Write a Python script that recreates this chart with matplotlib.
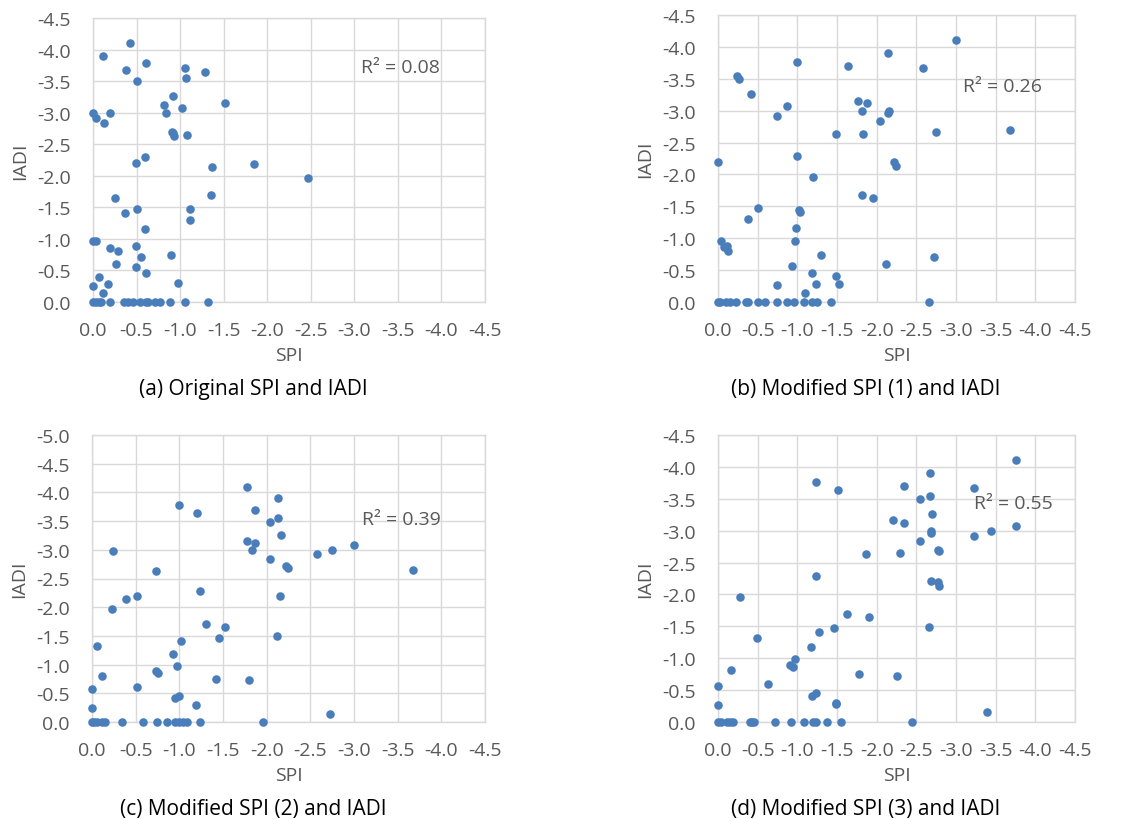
import numpy as np
import matplotlib.pyplot as plt

plt.rcParams['font.family'] = ['Open Sans', 'DejaVu Sans']

# (a) Original SPI and IADI
spi_a = [-0.43, -0.12, -0.61, -0.38, -1.06, -1.29, -0.50, -1.07, -0.92, -1.51,
         -0.81, -1.02, 0.0, -0.03, -0.20, -0.13, -0.84, -0.91, -0.92, -0.93,
         -1.08, -0.60, -0.49, -1.37, -1.85, -2.47, -0.25, -1.36, -0.37, -0.51,
         -1.11, -1.11, -0.60, 0.0, -0.04, -0.20, -0.29, -0.49, -0.55, -0.90,
         -0.26, -0.49, -0.61, -0.07, 0.0, -0.17, -0.98, -0.11,
         0.0, -0.03, -0.07, -0.09, -0.19, -0.36, -0.40, -0.46, -0.54, -0.61,
         -0.63, -0.71, -0.77, -0.88, -1.06, -1.32]
iadi_a = [-4.11, -3.90, -3.78, -3.67, -3.71, -3.64, -3.50, -3.55, -3.26, -3.16,
          -3.12, -3.07, -2.99, -2.91, -3.00, -2.84, -3.00, -2.70, -2.67, -2.63,
          -2.65, -2.29, -2.20, -2.14, -2.19, -1.96, -1.64, -1.69, -1.41, -1.47,
          -1.48, -1.30, -1.16, -0.97, -0.97, -0.86, -0.81, -0.88, -0.72, -0.74,
          -0.60, -0.56, -0.46, -0.40, -0.26, -0.28, -0.30, -0.14,
          0, 0, 0, 0, 0, 0, 0, 0, 0, 0, 0, 0, 0, 0, 0, 0]

# (b) Modified SPI (1) and IADI
spi_b = [-3.00, -2.14, -1.00, -1.64, -2.58, -0.24, -0.26, -0.41, -1.77, -1.88,
         -0.87, -1.81, -2.14, -2.16, -0.74, -2.04, -1.49, -1.83, -2.75, -3.68,
         0.0, -1.00, -2.22, -2.24, -1.20, -1.81, -1.96, -0.51, -1.02, -1.03,
         -0.38, -0.98, -0.04, -0.97, -0.07, -0.11, -0.12, -1.30, -2.72, -0.93,
         -2.12, -1.19, -1.49, -1.52, -0.74, -1.24, -1.10,
         0.0, -0.03, -0.10, -0.15, -0.23, -0.35, -0.38, -0.51, -0.59, -0.74,
         -0.87, -0.96, -1.08, -1.19, -1.25, -1.43, -2.66]
iadi_b = [-4.11, -3.90, -3.77, -3.70, -3.67, -3.55, -3.49, -3.26, -3.15, -3.12,
          -3.07, -2.99, -2.97, -2.99, -2.91, -2.84, -2.63, -2.64, -2.67, -2.70,
          -2.20, -2.29, -2.19, -2.13, -1.96, -1.68, -1.63, -1.48, -1.45, -1.41,
          -1.30, -1.16, -0.96, -0.96, -0.86, -0.88, -0.80, -0.74, -0.71, -0.56,
          -0.59, -0.45, -0.40, -0.29, -0.26, -0.28, -0.14,
          0, 0, 0, 0, 0, 0, 0, 0, 0, 0, 0, 0, 0, 0, 0, 0, 0]

# (c) Modified SPI (2) and IADI
spi_c = [-1.77, -2.13, -1.00, -1.87, -1.20, -2.13, -2.04, -2.16, -1.77, -1.87,
         -3.00, -1.83, -2.75, -0.24, -2.58, -2.04, -2.22, -2.24, -0.73, -3.67,
         -1.24, -0.51, -2.15, -0.39, -0.23, -1.30, -1.52, -1.45, -2.12, -1.02,
         -0.06, -0.93, -0.97, -0.73, -0.75, -0.12, -1.42, -1.80, 0.0, -0.51,
         -1.00, -0.95, -1.19, 0.0, -2.72,
         0.0, -0.02, -0.06, -0.11, -0.15, -0.34, -0.58, -0.74, -0.86, -0.95,
         -1.00, -1.04, -1.09, -1.24, -1.96]
iadi_c = [-4.10, -3.90, -3.78, -3.70, -3.64, -3.55, -3.49, -3.26, -3.16, -3.12,
          -3.08, -3.00, -3.00, -2.98, -2.92, -2.84, -2.71, -2.68, -2.63, -2.65,
          -2.29, -2.20, -2.20, -2.14, -1.96, -1.71, -1.65, -1.47, -1.49, -1.41,
          -1.32, -1.18, -0.98, -0.89, -0.86, -0.81, -0.75, -0.73, -0.57, -0.61,
          -0.46, -0.42, -0.30, -0.25, -0.14,
          0, 0, 0, 0, 0, 0, 0, 0, 0, 0, 0, 0, 0, 0, 0]

# (d) Modified SPI (3) and IADI
spi_d = [-3.76, -2.67, -1.24, -2.35, -3.23, -1.51, -2.67, -2.55, -2.70, -2.20,
         -2.35, -3.76, -3.44, -2.69, -2.68, -3.23, -2.55, -2.77, -2.79, -1.86,
         -2.29, -1.24, -2.68, -2.77, -2.79, -0.28, -1.62, -1.90, -1.46, -2.66,
         -1.27, -0.49, -1.17, -0.97, -0.91, -0.95, -0.16, -1.78, -2.25, 0.0,
         -0.63, -1.24, -1.19, -1.49, -1.49, 0.0, -3.39,
         0.0, -0.04, -0.11, -0.15, -0.19, -0.40, -0.43, -0.46, -0.72, -0.92,
         -1.08, -1.20, -1.24, -1.38, -1.55, -2.45]
iadi_d = [-4.11, -3.90, -3.77, -3.70, -3.67, -3.63, -3.55, -3.49, -3.26, -3.16,
          -3.12, -3.07, -3.00, -2.99, -2.97, -2.91, -2.84, -2.70, -2.68, -2.63,
          -2.65, -2.29, -2.21, -2.19, -2.13, -1.96, -1.69, -1.64, -1.47, -1.49,
          -1.41, -1.31, -1.17, -0.98, -0.89, -0.86, -0.81, -0.75, -0.72, -0.57,
          -0.60, -0.46, -0.41, -0.30, -0.28, -0.27, -0.15,
          0, 0, 0, 0, 0, 0, 0, 0, 0, 0, 0, 0, 0, 0, 0, 0]

r2_labels = ['R² = 0.08', 'R² = 0.26', 'R² = 0.39', 'R² = 0.55']
r2_pos = [(-3.08, -3.73), (-3.09, -3.38), (-3.09, -3.53), (-3.23, -3.44)]
captions = ['(a) Original SPI and IADI', '(b) Modified SPI (1) and IADI',
            '(c) Modified SPI (2) and IADI', '(d) Modified SPI (3) and IADI']
ymins = [-4.5, -4.5, -5.0, -4.5]

dot = '#4a7ebb'
txt = '#595959'
grid = '#d9d9d9'

W, H = 1146, 820
fig = plt.figure(figsize=(W / 100, H / 100), dpi=100)

# axes boxes in pixels: left, top, right, bottom
boxes = [(93, 19, 485, 303), (718, 16, 1075, 303),
         (92, 436, 485, 723), (718, 436, 1075, 723)]
data = [(spi_a, iadi_a), (spi_b, iadi_b), (spi_c, iadi_c), (spi_d, iadi_d)]
cap_xy = [(253, 390), (866, 390), (253, 810), (866, 810)]

for i in range(4):
    l, t, r, b = boxes[i]
    ax = fig.add_axes([l / W, 1 - b / H, (r - l) / W, (b - t) / H])
    x, y = data[i]
    ax.scatter(x, y, s=38, color=dot, zorder=3, clip_on=False, linewidths=0)
    ax.set_xlim(0, -4.5)
    ax.set_ylim(0, ymins[i])
    ax.set_xticks(np.arange(0, -4.51, -0.5))
    ax.set_yticks(np.arange(0, ymins[i] - 0.01, -0.5))
    ax.set_xticklabels(['%.1f' % v for v in ax.get_xticks()])
    ax.set_yticklabels(['%.1f' % v for v in ax.get_yticks()])
    ax.grid(True, color=grid, linewidth=1, zorder=0)
    ax.set_axisbelow(True)
    for s in ax.spines.values():
        s.set_color(grid)
        s.set_linewidth(1)
    ax.tick_params(axis='both', length=0, labelsize=14, colors=txt)
    ax.tick_params(axis='x', pad=14)
    ax.tick_params(axis='y', pad=16)
    ax.set_xlabel('SPI', fontsize=14, color=txt, labelpad=5)
    ax.set_ylabel('IADI', fontsize=14, color=txt, labelpad=6)
    ax.text(r2_pos[i][0], r2_pos[i][1], r2_labels[i], fontsize=14,
            color=txt, ha='left', va='center')
    fig.text(cap_xy[i][0] / W, 1 - cap_xy[i][1] / H, captions[i],
             fontsize=15, color='black', ha='center', va='center')

fig.savefig('out.png', dpi=100)
